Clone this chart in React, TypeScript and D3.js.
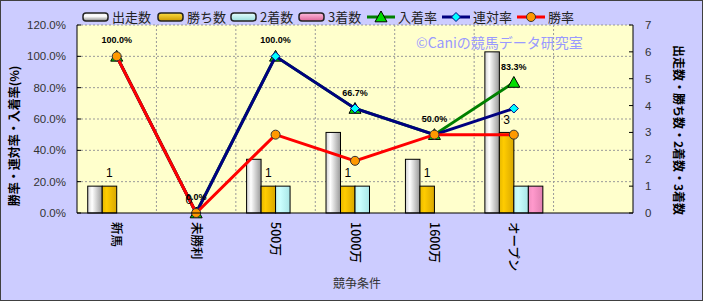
import React from 'react';
import * as d3 from 'd3';

const categories = ["新馬", "未勝利", "500万", "1000万", "1600万", "オープン"];
const starts = [1, 0, 2, 3, 2, 6];
const wins = [1, 0, 1, 1, 1, 3];
const seconds = [0, 0, 1, 1, 0, 1];
const thirds = [0, 0, 0, 0, 0, 1];
const winRate = [100, 0, 50, 33.3, 50, 50];
const rentaiRate = [100, 0, 100, 66.7, 50, 66.7];
const placeRate = [100, 0, 100, 66.7, 50, 83.3];
const leftTicks = [0, 20, 40, 60, 80, 100, 120];
const rightTicks = [0, 1, 2, 3, 4, 5, 6, 7];
const barSeries = ["出走数", "勝ち数", "2着数", "3着数"];
const lineSeries = ["入着率", "連対率", "勝率"];

const W = 703, H = 301;
const L = 77, R = 633, T = 25, B = 213;
const JP = "'Noto Sans CJK JP', 'Noto Sans', sans-serif";
const SANS = "'Liberation Sans', Arial, sans-serif";

const barFills = ["url(#gWhite)", "url(#gGold)", "url(#gCyan)", "url(#gPink)"];
const lineColors = ["#008000", "#000080", "#ff0000"];

function Marker({ kind, x, y }: { kind: number; x: number; y: number }) {
  if (kind === 0) {
    const s = 6;
    return <path d={`M${x},${y - s} L${x + s},${y + s * 0.8} L${x - s},${y + s * 0.8} Z`} fill="#00dd00" stroke="#000" strokeWidth={1} />;
  }
  if (kind === 1) {
    const s = 4.5;
    return <path d={`M${x},${y - s} L${x + s},${y} L${x},${y + s} L${x - s},${y} Z`} fill="#00ffff" stroke="#000080" strokeWidth={1} />;
  }
  return <circle cx={x} cy={y} r={4.5} fill="#ff9900" stroke="#333" strokeWidth={1} />;
}

export default function App() {
  const domain = [...categories, "__blank"];
  const x = d3.scaleBand<string>().domain(domain).range([L, R]).padding(0);
  const bw = x.bandwidth();
  const xi = d3.scaleBand<string>().domain(barSeries).range([0, bw]).paddingInner(0).paddingOuter(0.74);
  const yL = d3.scaleLinear().domain([0, 120]).range([B, T]);
  const yR = d3.scaleLinear().domain([0, 7]).range([B, T]);
  const cx = (c: string) => (x(c) as number) + bw / 2;

  const barData = [starts, wins, seconds, thirds];
  const rateData = [placeRate, rentaiRate, winRate];
  const line = d3.line<number>().x((_, i) => cx(categories[i])).y(d => yL(d));

  return (
    <svg width={W} height={H} style={{ position: 'absolute', left: 0, top: 0 }} xmlns="http://www.w3.org/2000/svg">
      <defs>
        <linearGradient id="gWhite" x1="0" x2="1" y1="0" y2="0">
          <stop offset="0" stopColor="#d0d0d0" />
          <stop offset="0.3" stopColor="#ffffff" />
          <stop offset="1" stopColor="#999999" />
        </linearGradient>
        <linearGradient id="gGold" x1="0" x2="1" y1="0" y2="0">
          <stop offset="0" stopColor="#e6b800" />
          <stop offset="0.3" stopColor="#ffcc00" />
          <stop offset="1" stopColor="#d9a800" />
        </linearGradient>
        <linearGradient id="gCyan" x1="0" x2="1" y1="0" y2="0">
          <stop offset="0" stopColor="#bff5f5" />
          <stop offset="0.3" stopColor="#ccffff" />
          <stop offset="1" stopColor="#a8e6e6" />
        </linearGradient>
        <linearGradient id="gPink" x1="0" x2="1" y1="0" y2="0">
          <stop offset="0" stopColor="#f090c0" />
          <stop offset="0.3" stopColor="#ff99cc" />
          <stop offset="1" stopColor="#e080b0" />
        </linearGradient>
        <linearGradient id="lWhite" x1="0" x2="0" y1="0" y2="1">
          <stop offset="0" stopColor="#eeeeee" />
          <stop offset="0.4" stopColor="#ffffff" />
          <stop offset="1" stopColor="#888888" />
        </linearGradient>
        <linearGradient id="lGold" x1="0" x2="0" y1="0" y2="1">
          <stop offset="0" stopColor="#ffdd44" />
          <stop offset="1" stopColor="#cc9900" />
        </linearGradient>
        <linearGradient id="lCyan" x1="0" x2="0" y1="0" y2="1">
          <stop offset="0" stopColor="#e6ffff" />
          <stop offset="1" stopColor="#99dddd" />
        </linearGradient>
        <linearGradient id="lPink" x1="0" x2="0" y1="0" y2="1">
          <stop offset="0" stopColor="#ffbbdd" />
          <stop offset="1" stopColor="#dd6699" />
        </linearGradient>
      </defs>
      <rect x={0.5} y={0.5} width={W - 1} height={H - 1} fill="#ccccff" stroke="#404040" strokeWidth={1} />
      <rect x={L} y={T} width={R - L} height={B - T} fill="#ffffcc" />

      {/* gridlines */}
      {leftTicks.filter(t => t > 0).map(t => (
        <line key={'h' + t} x1={L} x2={R} y1={yL(t)} y2={yL(t)} stroke="#999" strokeWidth={1} strokeDasharray="2,2" />
      ))}
      {domain.slice(1).map(c => (
        <line key={'v' + c} x1={x(c) as number} x2={x(c) as number} y1={T} y2={B} stroke="#999" strokeWidth={1} strokeDasharray="2,2" />
      ))}

      {/* watermark */}
      <text x={416} y={48} fontFamily={JP} fontSize={14} fill="#9999ff">©Caniの競馬データ研究室</text>

      {/* bars */}
      {barData.map((arr, si) => arr.map((v, i) => {
        if (v <= 0) return null;
        const bx = (x(categories[i]) as number) + (xi(barSeries[si]) as number);
        return <rect key={`b${si}-${i}`} x={bx} y={yR(v)} width={xi.bandwidth()} height={B - yR(v)} fill={barFills[si]} stroke="#000" strokeWidth={1} />;
      }))}

      {/* lines */}
      {rateData.map((arr, si) => (
        <g key={'l' + si}>
          <path d={line(arr) as string} fill="none" stroke={lineColors[si]} strokeWidth={3} />
          {arr.map((v, i) => <Marker key={i} kind={si} x={cx(categories[i])} y={yL(v)} />)}
        </g>
      ))}

      {/* axes */}
      <line x1={L} x2={L} y1={T} y2={B} stroke="#000" />
      <line x1={R} x2={R} y1={T} y2={B} stroke="#000" />
      <line x1={L} x2={R} y1={B} y2={B} stroke="#000" />
      {leftTicks.map(t => (
        <g key={'lt' + t}>
          <line x1={L} x2={L + 4} y1={yL(t)} y2={yL(t)} stroke="#000" />
          <text x={66} y={yL(t)} dy="0.35em" textAnchor="end" fontFamily={SANS} fontSize={11.5} fill="#333">{t.toFixed(1)}%</text>
        </g>
      ))}
      {rightTicks.map(t => (
        <g key={'rt' + t}>
          <line x1={R - 4} x2={R} y1={yR(t)} y2={yR(t)} stroke="#000" />
          <text x={645} y={yR(t)} dy="0.35em" textAnchor="start" fontFamily={SANS} fontSize={11.5} fill="#333">{t}</text>
        </g>
      ))}

      {/* category labels */}
      {categories.map(c => (
        <text key={'c' + c} transform={`translate(${cx(c)},222) rotate(90)`} dy="0.35em" textAnchor="start" fontFamily={JP} fontSize={12.5} fontWeight={500} fill="#000">{c}</text>
      ))}

      {/* rate labels */}
      {placeRate.map((v, i) => (
        <text key={'pl' + i} x={cx(categories[i])} y={yL(v) - 16} dy="0.35em" textAnchor="middle" fontFamily={SANS} fontSize={9} fontWeight="bold" fill="#000">{v.toFixed(1)}%</text>
      ))}
      {/* win count labels */}
      {wins.map((v, i) => {
        const bx = (x(categories[i]) as number) + (xi(barSeries[1]) as number) + xi.bandwidth() / 2;
        return <text key={'wl' + i} x={bx} y={yR(v) - 13} dy="0.35em" textAnchor="middle" fontFamily={SANS} fontSize={12} fill="#000">{v}</text>;
      })}

      {/* axis titles */}
      <text transform="translate(15,136) rotate(-90)" textAnchor="middle" dy="0.35em" fontFamily={JP} fontSize={12} fontWeight="bold" fill="#000">勝率・連対率・入着率(%)</text>
      <text transform="translate(678,130) rotate(90)" textAnchor="middle" dy="0.35em" fontFamily={JP} fontSize={12} fontWeight="bold" fill="#000">出走数・勝ち数・2着数・3着数</text>
      <text x={357} y={284} textAnchor="middle" dy="0.35em" fontFamily={JP} fontSize={12} fill="#333">競争条件</text>

      {/* legend */}
      {[83, 158, 231, 299].map((lx, i) => (
        <g key={'lg' + i}>
          <rect x={lx} y={13} width={25} height={8} rx={3} fill={["url(#lWhite)", "url(#lGold)", "url(#lCyan)", "url(#lPink)"][i]} stroke="#222" strokeWidth={1.5} />
          <text x={lx + 29} y={17} dy="0.35em" fontFamily={JP} fontSize={13} fill="#222">{barSeries[i]}</text>
        </g>
      ))}
      {[367, 442, 517].map((lx, i) => (
        <g key={'ll' + i}>
          <line x1={lx} x2={lx + 28} y1={17} y2={17} stroke={lineColors[i]} strokeWidth={3} />
          <Marker kind={i} x={lx + 14} y={17} />
          <text x={lx + 31} y={17} dy="0.35em" fontFamily={JP} fontSize={13} fill="#222">{lineSeries[i]}</text>
        </g>
      ))}
    </svg>
  );
}
